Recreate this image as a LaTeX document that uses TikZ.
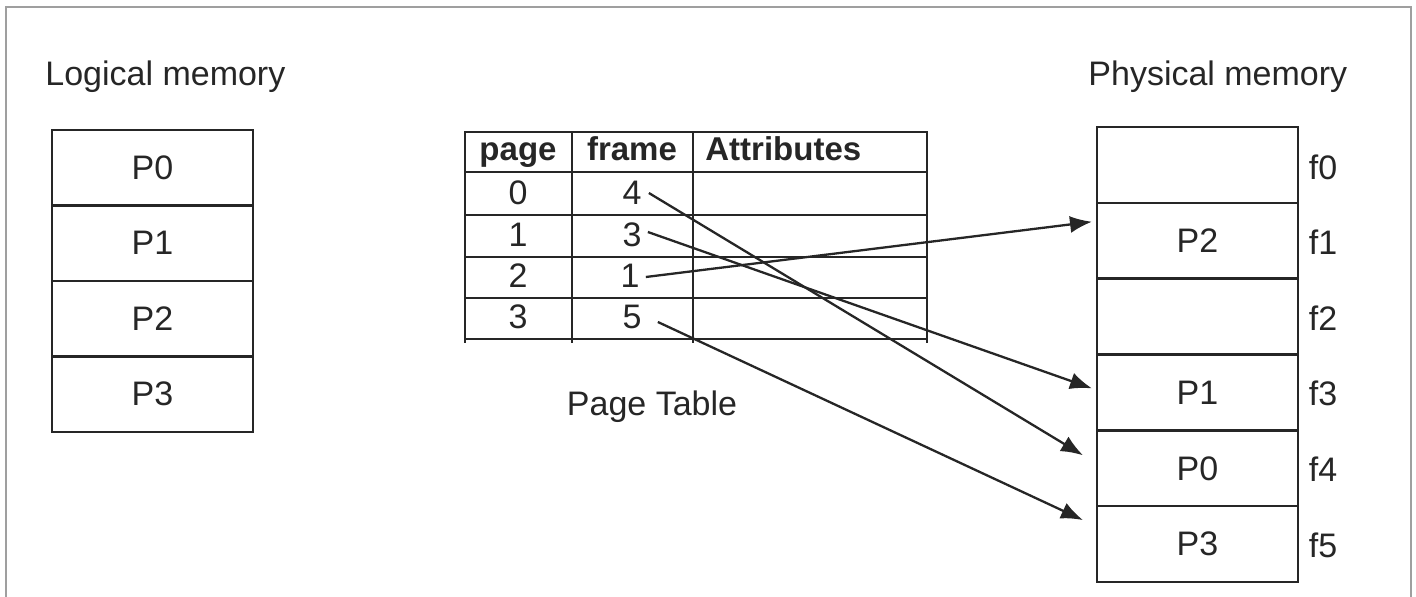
\documentclass[tikz,border=0pt]{standalone}
\usepackage{fontspec}
\setmainfont{Liberation Sans}
\usetikzlibrary{arrows.meta}
\begin{document}
\begin{tikzpicture}[x=0.5pt,y=-0.5pt,
  ink/.style={draw=black!85, line width=1.25pt},
  txt/.style={font=\fontsize{17}{20}\selectfont, text=black!85, inner sep=0pt},
  hdr/.style={font=\fontsize{16.5}{20}\selectfont\bfseries, text=black!85, inner sep=0pt, anchor=base},
  cellL/.style={ink, txt, minimum width=100.5pt, minimum height=37.75pt, outer sep=0pt},
  cellP/.style={ink, txt, minimum width=100.5pt, minimum height=37.9pt, outer sep=0pt},
  link/.style={draw=black!85, line width=1.15pt, -{Latex[length=11pt,width=8.5pt]}}
]
\useasboundingbox (0,0) rectangle (1416,597);

% frame around the figure
\draw[gray!75, line width=1.4pt] (6,605) -- (6,7) -- (1411,7) -- (1411,605);

% titles
\node[txt, anchor=base west] (ltitle) at (45,86) {Logical memory};
\node[txt, anchor=base west] (ptitle) at (1088,86) {Physical memory};

% logical memory
\node[cellL] (l0) at (152.5,167.75) {P0};
\node[cellL] (l1) at (152.5,243.25) {P1};
\node[cellL] (l2) at (152.5,318.75) {P2};
\node[cellL] (l3) at (152.5,394.25) {P3};

% page table grid
\draw[ink] (465,132) rectangle (927,339);
\foreach \y in {172,215,257,298} \draw[ink] (465,\y) -- (927,\y);
\draw[ink] (572,132) -- (572,343);
\draw[ink] (693,132) -- (693,343);
\draw[ink] (465,339) -- (465,343);
\draw[ink] (927,339) -- (927,343);

\node[hdr] (hpage) at (518,161) {page};
\node[hdr] (hframe) at (632,161) {frame};
\node[hdr, anchor=base west] (hattr) at (705,161) {Attributes};

\node[txt] (pg0) at (518,193) {0};
\node[txt] (pg1) at (518,235) {1};
\node[txt] (pg2) at (518,276) {2};
\node[txt] (pg3) at (518,317) {3};
\node[txt] (fr0) at (632,193) {4};
\node[txt] (fr1) at (632,235) {3};
\node[txt] (fr2) at (630,276) {1};
\node[txt] (fr3) at (632,317) {5};

\node[txt, anchor=base] (ptlabel) at (652,416) {Page Table};

% physical memory
\node[cellP] (p0) at (1197.5,164.9) {};
\node[cellP] (p1) at (1197.5,240.75) {P2};
\node[cellP] (p2) at (1197.5,316.6) {};
\node[cellP] (p3) at (1197.5,392.4) {P1};
\node[cellP] (p4) at (1197.5,468.3) {P0};
\node[cellP] (p5) at (1197.5,544.1) {P3};

\node[txt] (f0) at (1323,167) {f0};
\node[txt] (f1) at (1323,242) {f1};
\node[txt] (f2) at (1323,318) {f2};
\node[txt] (f3) at (1323,393) {f3};
\node[txt] (f4) at (1323,469) {f4};
\node[txt] (f5) at (1323,545) {f5};

% connector ends
\coordinate (s0) at ([shift={(7,0)}]fr0.east);
\coordinate (s1) at ([shift={(6,-3)}]fr1.east);
\coordinate (s2) at ([shift={(6,1)}]fr2.east);
\coordinate (s3) at ([shift={(16,5)}]fr3.east);
\coordinate (t0) at ([shift={(-14,-13)}]p4.west);
\coordinate (t1) at ([shift={(-5,-4)}]p3.west);
\coordinate (t2) at ([shift={(-5,-19)}]p1.west);
\coordinate (t3) at ([shift={(-14,-24)}]p5.west);

% page -> frame mappings
\draw[link] (s0) -- (t0);
\draw[link] (s1) -- (t1);
\draw[link] (s2) -- (t2);
\draw[link] (s3) -- (t3);
\end{tikzpicture}
\end{document}
